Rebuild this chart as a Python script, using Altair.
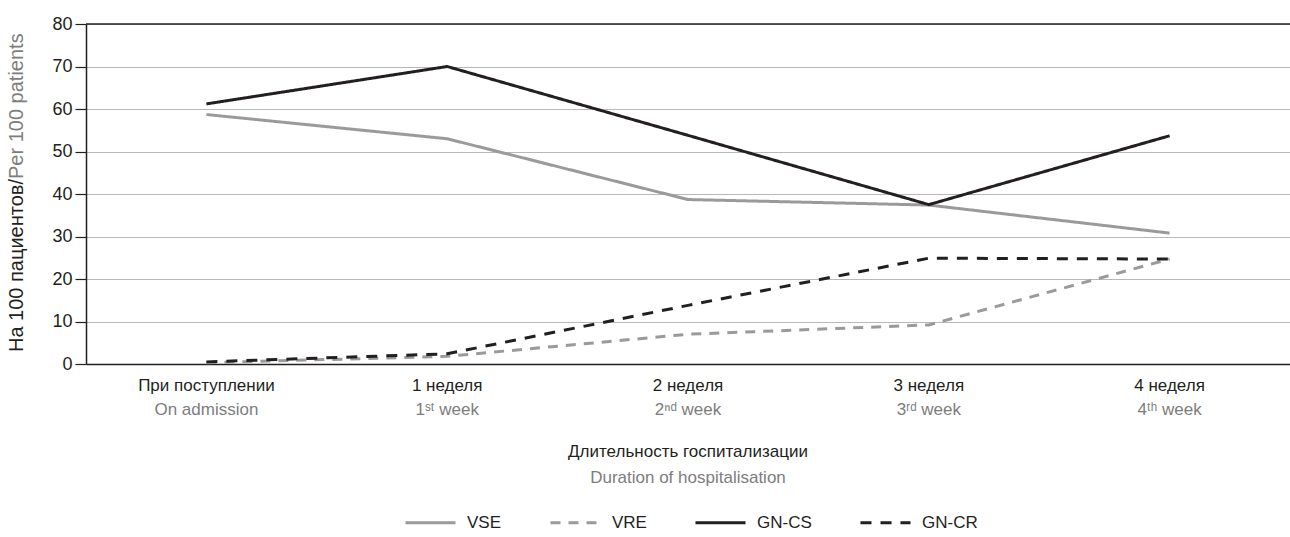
import altair as alt
import pandas as pd

categories = ["При поступлении", "1 неделя", "2 неделя", "3 неделя", "4 неделя"]
labels_ru = ["При поступлении", "1 неделя", "2 неделя", "3 неделя", "4 неделя"]
labels_en = ["On admission", "1ˢᵗ week", "2ⁿᵈ week", "3ʳᵈ week", "4ᵗʰ week"]

series = ["VSE", "VRE", "GN-CS", "GN-CR"]
vse = [58.7, 53.0, 38.7, 37.4, 30.8]
vre = [0.3, 1.8, 7.0, 9.2, 24.7]
gn_cs = [61.2, 70.0, 53.8, 37.5, 53.7]
gn_cr = [0.5, 2.4, 13.8, 24.9, 24.7]

y_ticks = [0, 10, 20, 30, 40, 50, 60, 70, 80]

FONT = "Liberation Sans, Arial, sans-serif"
DARK = "#231f20"
GRAY_LINE = "#9a9a9a"
GRAY_TEXT = "#7d7d7d"

rows = []
for name, vals in zip(series, [vse, vre, gn_cs, gn_cr]):
    for c, v in zip(categories, vals):
        rows.append({"cat": c, "value": v, "series": name})
df = pd.DataFrame(rows)

lab_df = pd.DataFrame({"cat": categories, "ru": labels_ru, "en": labels_en})

W, H = 1204, 340

x_enc = alt.X("cat:N", sort=categories, scale=alt.Scale(domain=categories),
              axis=alt.Axis(labels=False, ticks=False, title=None, domainColor=DARK,
                            domainWidth=1.5, grid=False))
y_enc = alt.Y("value:Q", scale=alt.Scale(domain=[0, 80], nice=False),
              axis=alt.Axis(values=y_ticks, title=None, labelFont=FONT, labelFontSize=18,
                            labelColor=DARK, tickColor=DARK, tickSize=11, tickWidth=1.2,
                            domainColor=DARK, domainWidth=1.5, gridColor="#b8b8b8",
                            gridWidth=1, labelPadding=3))

leg = alt.Legend(orient="none", legendX=318, legendY=472, direction="horizontal",
                 title=None, symbolType="stroke", symbolSize=2500, symbolStrokeWidth=3,
                 labelFont=FONT, labelFontSize=17, labelColor=DARK, columnPadding=42,
                 labelOffset=10)

lines = alt.Chart(df).mark_line(strokeWidth=3).encode(
    x=x_enc,
    y=y_enc,
    color=alt.Color("series:N", scale=alt.Scale(domain=series,
                    range=[GRAY_LINE, GRAY_LINE, DARK, DARK]), legend=leg),
    strokeDash=alt.StrokeDash("series:N", scale=alt.Scale(domain=series,
                    range=[[1, 0], [10, 8], [1, 0], [11, 9]]), legend=leg),
    detail="series:N",
)

top_rule = alt.Chart(pd.DataFrame({"v": [80]})).mark_rule(color=DARK, strokeWidth=1.5).encode(
    y=alt.Y("v:Q", scale=alt.Scale(domain=[0, 80], nice=False))
)

ru_text = alt.Chart(lab_df).mark_text(font=FONT, fontSize=17, color=DARK, baseline="middle").encode(
    x=alt.X("cat:N", sort=categories), y=alt.value(362), text="ru:N")
en_text = alt.Chart(lab_df).mark_text(font=FONT, fontSize=17, color=GRAY_TEXT, baseline="middle").encode(
    x=alt.X("cat:N", sort=categories), y=alt.value(386), text="en:N")

one = pd.DataFrame({"a": [0]})
xt1 = alt.Chart(one).mark_text(font=FONT, fontSize=17, color=DARK, baseline="middle").encode(
    x=alt.value(W / 2), y=alt.value(428), text=alt.value("Длительность госпитализации"))
xt2 = alt.Chart(one).mark_text(font=FONT, fontSize=17, color=GRAY_TEXT, baseline="middle").encode(
    x=alt.value(W / 2), y=alt.value(454), text=alt.value("Duration of hospitalisation"))

yt1 = alt.Chart(one).mark_text(font=FONT, fontSize=20, color=DARK, baseline="middle",
                               angle=270, align="right").encode(
    x=alt.value(-69), y=alt.value(155), text=alt.value("На 100 пациентов/"))
yt2 = alt.Chart(one).mark_text(font=FONT, fontSize=20, color=GRAY_TEXT, baseline="middle",
                               angle=270, align="left").encode(
    x=alt.value(-69), y=alt.value(155), text=alt.value("Per 100 patients"))

chart = alt.layer(lines, top_rule, ru_text, en_text, xt1, xt2, yt1, yt2).properties(
    width=W, height=H,
    autosize=alt.AutoSizeParams(type="none"),
    padding={"left": 86, "top": 24, "right": 0, "bottom": 173},
).configure_view(stroke=None).configure(background="white")

chart.save("out.html", embed_options={"renderer": "svg", "actions": False})
